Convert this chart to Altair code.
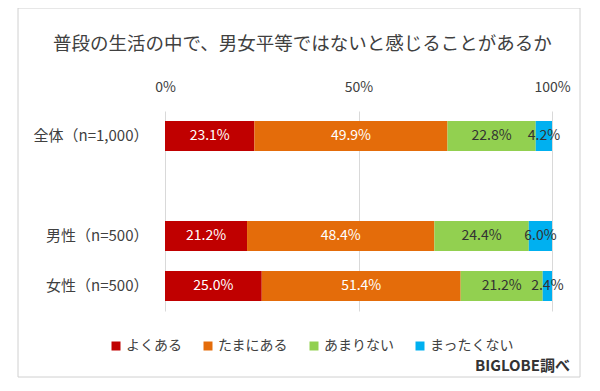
import altair as alt
import pandas as pd

title_text = "普段の生活の中で、男女平等ではないと感じることがあるか"
source_text = "BIGLOBE調べ"
groups = ["全体（n=1,000）", "男性（n=500）", "女性（n=500）"]
row_order = ["全体（n=1,000）", " ", "男性（n=500）", "女性（n=500）"]
answers = ["よくある", "たまにある", "あまりない", "まったくない"]
colors = ["#C00000", "#E46C0A", "#92D050", "#00B0F0"]
text_colors = ["#FFFFFF", "#FFFFFF", "#333333", "#333333"]
values = {
    "全体（n=1,000）": [23.1, 49.9, 22.8, 4.2],
    "男性（n=500）": [21.2, 48.4, 24.4, 6.0],
    "女性（n=500）": [25.0, 51.4, 21.2, 2.4],
}
x_ticks = [0, 50, 100]

rows = []
for g in groups:
    start = 0.0
    for a, v, tc in zip(answers, values[g], text_colors):
        rows.append({"group": g, "answer": a, "value": v, "start": start,
                     "end": start + v, "mid": start + v / 2,
                     "label": f"{v:.1f}%", "tc": tc})
        start += v
df = pd.DataFrame(rows)

FONT = "Noto Sans CJK JP"

y_enc = alt.Y("group:N", sort=row_order, scale=alt.Scale(domain=row_order, paddingInner=0.4, paddingOuter=0.2),
              axis=alt.Axis(title=None, domain=False, ticks=False, labelPadding=17,
                            labelFontSize=15, labelColor="#404040", labelFont=FONT, grid=False))

base = alt.Chart(df)

bars = base.mark_bar(size=30).encode(
    x=alt.X("start:Q", scale=alt.Scale(domain=[0, 100], nice=False),
            axis=alt.Axis(orient="top", title=None, values=x_ticks,
                          labelExpr="datum.value + '%'", domain=False, ticks=False,
                          labelFlush=False, labelBound=False,
                          grid=True, gridColor="#D9D9D9", labelPadding=17,
                          labelFontSize=14, labelColor="#404040", labelFont=FONT)),
    x2="end:Q",
    y=y_enc,
    color=alt.Color("answer:N", sort=answers,
                    scale=alt.Scale(domain=answers, range=colors),
                    legend=alt.Legend(title=None, orient="none", direction="horizontal",
                                      columns=4, legendX=-56, legendY=228, padding=0,
                                      symbolType="square", symbolSize=81,
                                      symbolStrokeWidth=0, labelOffset=3,
                                      columnPadding=19, labelFontSize=14,
                                      labelColor="#404040", labelFont=FONT)),
)

labels = base.mark_text(fontSize=14, font=FONT).encode(
    x="mid:Q",
    y=alt.Y("group:N", sort=row_order),
    text="label:N",
    color=alt.Color("tc:N", scale=None, legend=None),
)

frame = alt.Chart(alt.Data(values=[{}])).mark_rect(fill=None, stroke="#D0D0D0", strokeWidth=1).encode(
    x=alt.value(-147), x2=alt.value(415), y=alt.value(-103), y2=alt.value(266)
)

title = alt.Chart(alt.Data(values=[{"t": title_text}])).mark_text(
    align="left", baseline="middle", fontSize=18.5, font=FONT, color="#404040"
).encode(x=alt.value(-112), y=alt.value(-67), text="t:N")

source = alt.Chart(alt.Data(values=[{"t": source_text}])).mark_text(
    align="right", baseline="middle", fontSize=15, fontWeight="bold", font=FONT, color="#333333"
).encode(x=alt.value(405), y=alt.value(255), text="t:N")

chart = alt.layer(frame, title, bars, labels, source).properties(
    width=387, height=200,
    autosize=alt.AutoSizeParams(type="none"),
    padding={"left": 157, "top": 103, "right": 40, "bottom": 68},
).configure_view(stroke=None).resolve_scale(color="independent")

chart.save("out.html", embed_options={"renderer": "svg", "actions": False})
